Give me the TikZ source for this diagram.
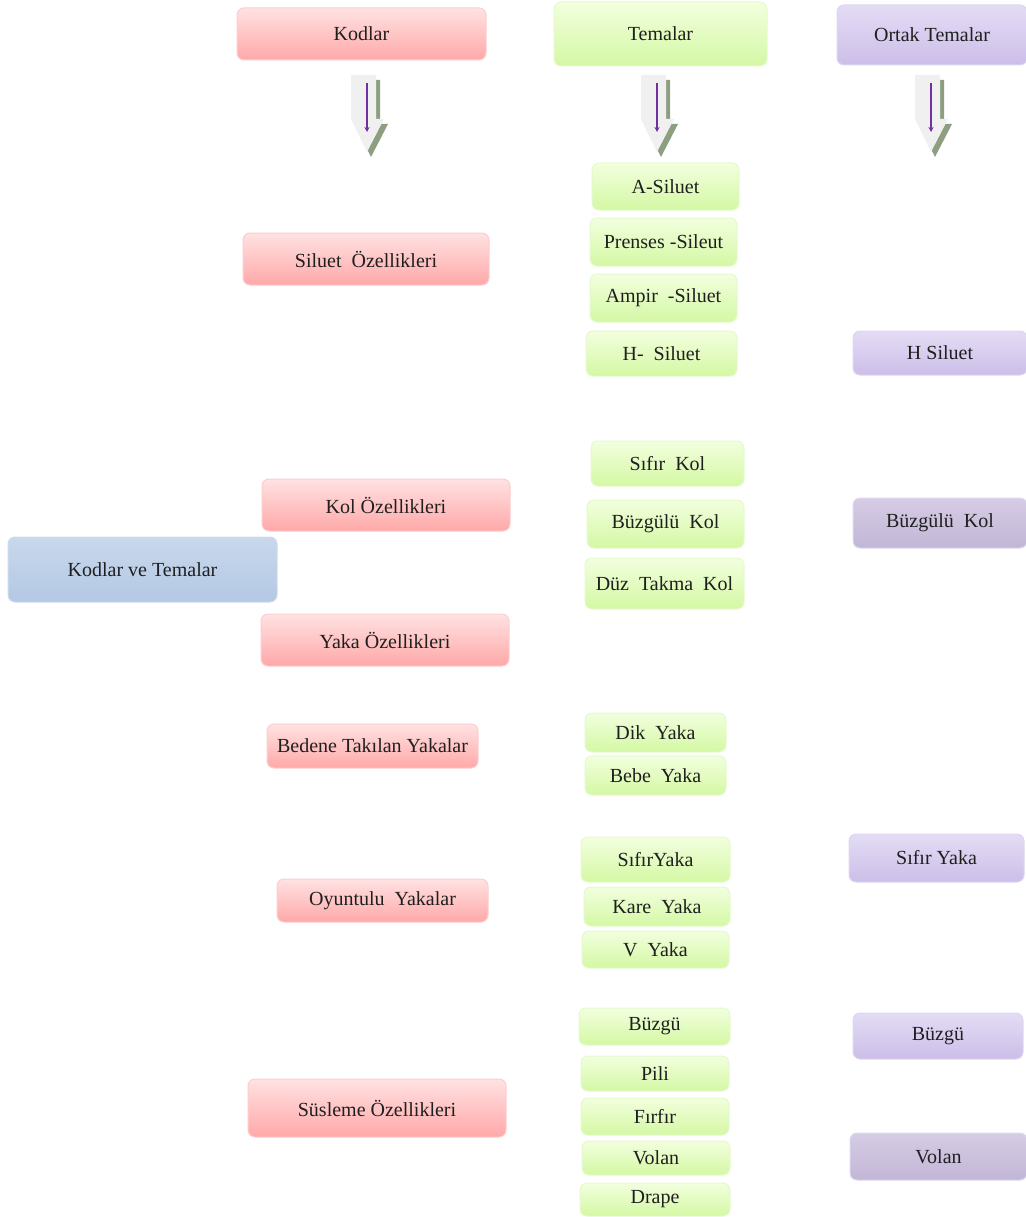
\documentclass[tikz,border=0pt]{standalone}
\usepackage{fontspec}
\setmainfont{Liberation Serif}
\usetikzlibrary{arrows.meta}
\definecolor{redT}{RGB}{255,226,226}
\definecolor{redB}{RGB}{255,168,168}
\definecolor{redD}{RGB}{255,205,205}
\definecolor{grnT}{RGB}{242,255,222}
\definecolor{grnB}{RGB}{212,248,164}
\definecolor{grnD}{RGB}{228,250,205}
\definecolor{purT}{RGB}{228,220,245}
\definecolor{purB}{RGB}{204,190,232}
\definecolor{purD}{RGB}{222,214,240}
\definecolor{dpuT}{RGB}{214,204,228}
\definecolor{dpuB}{RGB}{194,182,214}
\definecolor{bluT}{RGB}{200,216,236}
\definecolor{bluB}{RGB}{180,200,228}
\definecolor{bluD}{RGB}{205,220,238}
\definecolor{arrShadow}{RGB}{142,158,128}
\definecolor{arrFill}{RGB}{240,240,240}
\definecolor{arrLine}{RGB}{112,48,160}
\tikzset{
  box/.style={rounded corners=7pt, inner sep=0pt, line width=1pt,
    font=\fontsize{20}{23}\selectfont, text=black!88},
  redbox/.style={box, top color=redT, bottom color=redB, draw=redD},
  grnbox/.style={box, top color=grnT, bottom color=grnB, draw=grnD},
  purbox/.style={box, top color=purT, bottom color=purB, draw=purD},
  dpubox/.style={box, top color=dpuT, bottom color=dpuB, draw=purD},
  blubox/.style={box, top color=bluT, bottom color=bluB, draw=bluD},
}
% #1 style, #2 name, #3 x1, #4 y1, #5 x2, #6 y2, #7 text
\newcommand\bx[7]{\node[#1, minimum width={#5pt-#3pt}, minimum height={#6pt-#4pt}] (#2) at ({(#3+#5)/2},{(#4+#6)/2}) {#7};}
% block arrow centred at x=#1
\newcommand\darrshape[3]{({#1+#2-16},{75+#3}) -- ({#1+#2+9},{75+#3}) -- ({#1+#2+9},{119+#3}) -- ({#1+#2+17},{119+#3}) -- ({#1+#2},{152+#3}) -- ({#1+#2-16},{119+#3}) -- cycle}
\newcommand\darr[1]{%
  \fill[arrShadow] \darrshape{#1}{4}{5};
  \fill[arrFill] \darrshape{#1}{0}{0};
  \draw[arrLine, line width=1.5pt, -{Stealth[length=5pt,width=5pt]}] (#1,83) -- (#1,132);
}
\begin{document}
\begin{tikzpicture}[x=1pt,y=-1pt]
\useasboundingbox (0,0) rectangle (1025,1217);
% arrows
\darr{367}
\darr{657}
\darr{931}
% blue
\bx{blubox}{kt}{8}{537}{277}{602}{Kodlar ve Temalar}
% red column
\bx{redbox}{kodlar}{237}{8}{486}{60}{Kodlar}
\bx{redbox}{silo}{243}{233}{489}{285}{Siluet \ Özellikleri}
\bx{redbox}{kolo}{262}{479}{510}{531}{Kol Özellikleri}
\bx{redbox}{yakao}{261}{614}{509}{666}{Yaka Özellikleri}
\bx{redbox}{bedene}{267}{724}{478}{768}{Bedene Takılan Yakalar}
\bx{redbox}{oyun}{277}{879}{488}{922}{Oyuntulu \ Yakalar}
\bx{redbox}{susle}{248}{1079}{506}{1137}{Süsleme Özellikleri}
% green column
\bx{grnbox}{temalar}{554}{2}{767}{66}{Temalar}
\bx{grnbox}{asil}{592}{163}{739}{210}{A-Siluet}
\bx{grnbox}{prenses}{590}{218}{737}{266}{Prenses -Sileut}
\bx{grnbox}{ampir}{590}{274}{737}{322}{Ampir \ -Siluet}
\bx{grnbox}{hsil}{586}{331}{737}{376}{H- \ Siluet}
\bx{grnbox}{sifirkol}{591}{441}{744}{486}{Sıfır \ Kol}
\bx{grnbox}{buzkol}{587}{500}{744}{548}{Büzgülü \ Kol}
\bx{grnbox}{duz}{585}{558}{744}{609}{Düz \ Takma \ Kol}
\bx{grnbox}{dik}{585}{713}{726}{752}{Dik \ Yaka}
\bx{grnbox}{bebe}{585}{756}{726}{795}{Bebe \ Yaka}
\bx{grnbox}{sifiryaka}{581}{837}{730}{882}{SıfırYaka}
\bx{grnbox}{kare}{584}{887}{730}{926}{Kare \ Yaka}
\bx{grnbox}{vyaka}{582}{931}{729}{968}{V \ Yaka}
\bx{grnbox}{buzgu}{579}{1008}{730}{1045}{Büzgü}
\bx{grnbox}{pili}{581}{1056}{729}{1091}{Pili}
\bx{grnbox}{firfir}{581}{1098}{729}{1135}{Fırfır}
\bx{grnbox}{volan}{582}{1141}{730}{1175}{Volan}
\bx{grnbox}{drape}{580}{1183}{730}{1216}{Drape}
% purple column
\bx{purbox}{ortak}{837}{5}{1027}{65}{Ortak Temalar}
\bx{purbox}{ohsil}{853}{331}{1027}{375}{H Siluet}
\bx{dpubox}{obuzkol}{853}{498}{1027}{548}{Büzgülü \ Kol}
\bx{purbox}{osifir}{849}{834}{1024}{882}{Sıfır Yaka}
\bx{purbox}{obuzgu}{853}{1013}{1023}{1059}{Büzgü}
\bx{dpubox}{ovolan}{850}{1133}{1027}{1180}{Volan}
\end{tikzpicture}
\end{document}
